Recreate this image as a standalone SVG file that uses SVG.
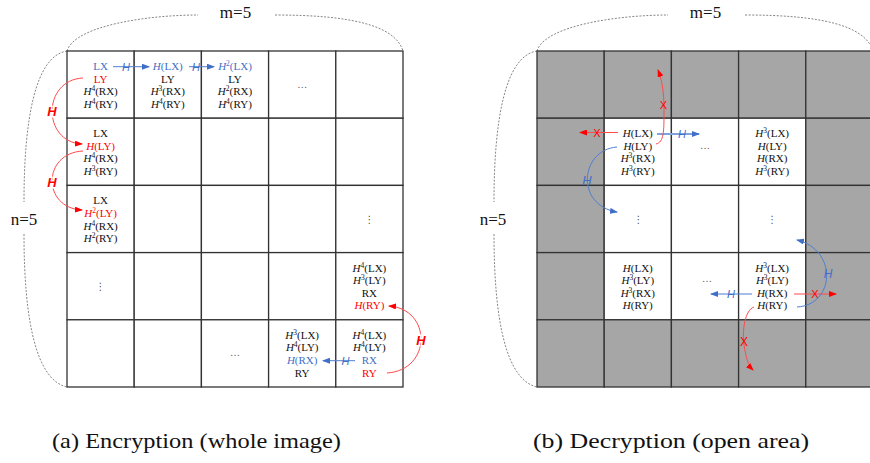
<svg xmlns="http://www.w3.org/2000/svg" width="870" height="463" viewBox="0 0 870 463">
<style>
  .cell { stroke: #333; stroke-width: 1.3; }
  .w { fill: #fff; }
  .g { fill: #a6a6a6; }
  .t { font-family: "Liberation Serif", "Times New Roman", serif; font-size: 11px; text-anchor: middle; fill: #111; }
  .i { font-style: italic; }
  .s { font-size: 7.5px; }
  .blue { fill: #3f6fc6; }
  .red { fill: #f00; }
  .dots { font-family: "Liberation Serif", serif; font-size: 10px; text-anchor: middle; fill: #555; }
  .vdots { font-family: "DejaVu Sans", sans-serif; font-size: 10px; text-anchor: middle; fill: #555; }
  .brace { fill: none; stroke: #777; stroke-width: 0.9; stroke-dasharray: 2 1.5; }
  .dim { font-family: "Liberation Serif", "Times New Roman", serif; font-size: 17px; text-anchor: middle; fill: #111; }
  .cap { font-family: "Liberation Serif", "Times New Roman", serif; font-size: 21px; fill: #111; }
  .lb { font-family: "Liberation Sans", sans-serif; font-style: italic; text-anchor: middle; fill: #3f6fc6; }
  .lr { font-family: "Liberation Sans", sans-serif; text-anchor: middle; fill: #f00; }
  .cb { fill: none; stroke: #4f7fd0; stroke-width: 1; }
  .cbw { fill: none; stroke: #7ea3de; stroke-width: 2; }
  .cr { fill: none; stroke: #ff4a4a; stroke-width: 1; }
  .halo { stroke: #fff; stroke-width: 3; paint-order: stroke; }
</style>
<defs>
  <marker id="ab" viewBox="0 0 8 6" refX="7" refY="3" markerWidth="8" markerHeight="6" markerUnits="userSpaceOnUse" orient="auto">
    <path d="M0,0 L8,3 L0,6 z" fill="#3f6fc6"/>
  </marker>
  <marker id="ar" viewBox="0 0 8 6" refX="7" refY="3" markerWidth="8" markerHeight="6" markerUnits="userSpaceOnUse" orient="auto">
    <path d="M0,0 L8,3 L0,6 z" fill="#f00"/>
  </marker>
</defs>

<!-- ===== (a) Encryption: 5x5 grid ===== -->
<g id="braces-a">
  <path class="brace" d="M67,51 C75,25 150,15 198,15"/>
  <path class="brace" d="M275,15 C350,15 395,25 403,51"/>
  <text class="dim" x="235.5" y="18">m=5</text>
  <path class="brace" d="M67,51 C35,56 24,120 24,202"/>
  <path class="brace" d="M24,234 C24,320 36,380 67,387"/>
  <text class="dim" x="24" y="225">n=5</text>
</g>

<g id="a-r0c0"><rect class="cell w" x="67" y="51" width="67.2" height="67.2"/>
  <text class="t blue" x="100.6" y="70">LX</text>
  <text class="t red" x="100.6" y="82.6">LY</text>
  <text class="t" x="100.6" y="95.2"><tspan class="i">H</tspan><tspan class="s" dy="-4">4</tspan><tspan dy="4">(RX)</tspan></text>
  <text class="t" x="100.6" y="107.8"><tspan class="i">H</tspan><tspan class="s" dy="-4">4</tspan><tspan dy="4">(RY)</tspan></text>
</g>
<g id="a-r0c1"><rect class="cell w" x="134.2" y="51" width="67.2" height="67.2"/>
  <text class="t blue" x="167.8" y="70"><tspan class="i">H</tspan>(LX)</text>
  <text class="t" x="167.8" y="82.6">LY</text>
  <text class="t" x="167.8" y="95.2"><tspan class="i">H</tspan><tspan class="s" dy="-4">3</tspan><tspan dy="4">(RX)</tspan></text>
  <text class="t" x="167.8" y="107.8"><tspan class="i">H</tspan><tspan class="s" dy="-4">4</tspan><tspan dy="4">(RY)</tspan></text>
</g>
<g id="a-r0c2"><rect class="cell w" x="201.4" y="51" width="67.2" height="67.2"/>
  <text class="t blue" x="235" y="70"><tspan class="i">H</tspan><tspan class="s" dy="-4">2</tspan><tspan dy="4">(LX)</tspan></text>
  <text class="t" x="235" y="82.6">LY</text>
  <text class="t" x="235" y="95.2"><tspan class="i">H</tspan><tspan class="s" dy="-4">2</tspan><tspan dy="4">(RX)</tspan></text>
  <text class="t" x="235" y="107.8"><tspan class="i">H</tspan><tspan class="s" dy="-4">4</tspan><tspan dy="4">(RY)</tspan></text>
</g>
<g id="a-r0c3"><rect class="cell w" x="268.6" y="51" width="67.2" height="67.2"/>
  <text class="dots" x="302.2" y="88">…</text>
</g>
<g id="a-r0c4"><rect class="cell w" x="335.8" y="51" width="67.2" height="67.2"/></g>

<g id="a-r1c0"><rect class="cell w" x="67" y="118.2" width="67.2" height="67.2"/>
  <text class="t" x="100.6" y="137.2">LX</text>
  <text class="t red" x="100.6" y="149.8"><tspan class="i">H</tspan>(LY)</text>
  <text class="t" x="100.6" y="162.4"><tspan class="i">H</tspan><tspan class="s" dy="-4">4</tspan><tspan dy="4">(RX)</tspan></text>
  <text class="t" x="100.6" y="175"><tspan class="i">H</tspan><tspan class="s" dy="-4">3</tspan><tspan dy="4">(RY)</tspan></text>
</g>
<g id="a-r1c1"><rect class="cell w" x="134.2" y="118.2" width="67.2" height="67.2"/></g>
<g id="a-r1c2"><rect class="cell w" x="201.4" y="118.2" width="67.2" height="67.2"/></g>
<g id="a-r1c3"><rect class="cell w" x="268.6" y="118.2" width="67.2" height="67.2"/></g>
<g id="a-r1c4"><rect class="cell w" x="335.8" y="118.2" width="67.2" height="67.2"/></g>

<g id="a-r2c0"><rect class="cell w" x="67" y="185.4" width="67.2" height="67.2"/>
  <text class="t" x="100.6" y="204.4">LX</text>
  <text class="t red" x="100.6" y="217"><tspan class="i">H</tspan><tspan class="s" dy="-4">2</tspan><tspan dy="4">(LY)</tspan></text>
  <text class="t" x="100.6" y="229.6"><tspan class="i">H</tspan><tspan class="s" dy="-4">4</tspan><tspan dy="4">(RX)</tspan></text>
  <text class="t" x="100.6" y="242.2"><tspan class="i">H</tspan><tspan class="s" dy="-4">2</tspan><tspan dy="4">(RY)</tspan></text>
</g>
<g id="a-r2c1"><rect class="cell w" x="134.2" y="185.4" width="67.2" height="67.2"/></g>
<g id="a-r2c2"><rect class="cell w" x="201.4" y="185.4" width="67.2" height="67.2"/></g>
<g id="a-r2c3"><rect class="cell w" x="268.6" y="185.4" width="67.2" height="67.2"/></g>
<g id="a-r2c4"><rect class="cell w" x="335.8" y="185.4" width="67.2" height="67.2"/>
  <text class="vdots" x="369.4" y="222.5">⋮</text>
</g>

<g id="a-r3c0"><rect class="cell w" x="67" y="252.6" width="67.2" height="67.2"/>
  <text class="vdots" x="100.6" y="289.5">⋮</text>
</g>
<g id="a-r3c1"><rect class="cell w" x="134.2" y="252.6" width="67.2" height="67.2"/></g>
<g id="a-r3c2"><rect class="cell w" x="201.4" y="252.6" width="67.2" height="67.2"/></g>
<g id="a-r3c3"><rect class="cell w" x="268.6" y="252.6" width="67.2" height="67.2"/></g>
<g id="a-r3c4"><rect class="cell w" x="335.8" y="252.6" width="67.2" height="67.2"/>
  <text class="t" x="369.4" y="271.6"><tspan class="i">H</tspan><tspan class="s" dy="-4">4</tspan><tspan dy="4">(LX)</tspan></text>
  <text class="t" x="369.4" y="284.2"><tspan class="i">H</tspan><tspan class="s" dy="-4">3</tspan><tspan dy="4">(LY)</tspan></text>
  <text class="t" x="369.4" y="296.8">RX</text>
  <text class="t red" x="369.4" y="309.4"><tspan class="i">H</tspan>(RY)</text>
</g>

<g id="a-r4c0"><rect class="cell w" x="67" y="319.8" width="67.2" height="67.2"/></g>
<g id="a-r4c1"><rect class="cell w" x="134.2" y="319.8" width="67.2" height="67.2"/></g>
<g id="a-r4c2"><rect class="cell w" x="201.4" y="319.8" width="67.2" height="67.2"/>
  <text class="dots" x="235" y="356">…</text>
</g>
<g id="a-r4c3"><rect class="cell w" x="268.6" y="319.8" width="67.2" height="67.2"/>
  <text class="t" x="302.2" y="338.8"><tspan class="i">H</tspan><tspan class="s" dy="-4">3</tspan><tspan dy="4">(LX)</tspan></text>
  <text class="t" x="302.2" y="351.4"><tspan class="i">H</tspan><tspan class="s" dy="-4">4</tspan><tspan dy="4">(LY)</tspan></text>
  <text class="t blue" x="302.2" y="364"><tspan class="i">H</tspan>(RX)</text>
  <text class="t" x="302.2" y="376.6">RY</text>
</g>
<g id="a-r4c4"><rect class="cell w" x="335.8" y="319.8" width="67.2" height="67.2"/>
  <text class="t" x="369.4" y="338.8"><tspan class="i">H</tspan><tspan class="s" dy="-4">4</tspan><tspan dy="4">(LX)</tspan></text>
  <text class="t" x="369.4" y="351.4"><tspan class="i">H</tspan><tspan class="s" dy="-4">4</tspan><tspan dy="4">(LY)</tspan></text>
  <text class="t blue" x="369.4" y="364">RX</text>
  <text class="t red" x="369.4" y="376.6">RY</text>
</g>

<!-- ===== (b) Decryption: 5x5 grid, only the inner area is open ===== -->
<g id="braces-b">
  <path class="brace" d="M537,51 C545,25 620,15 668,15"/>
  <path class="brace" d="M745,15 C820,15 865,25 873,51"/>
  <text class="dim" x="705.5" y="18">m=5</text>
  <path class="brace" d="M537,51 C505,56 494,120 494,202"/>
  <path class="brace" d="M494,234 C494,320 506,380 537,387"/>
  <text class="dim" x="493" y="225">n=5</text>
</g>

<g id="b-r0c0"><rect class="cell g" x="537" y="51" width="67.2" height="67.2"/></g>
<g id="b-r0c1"><rect class="cell g" x="604.2" y="51" width="67.2" height="67.2"/></g>
<g id="b-r0c2"><rect class="cell g" x="671.4" y="51" width="67.2" height="67.2"/></g>
<g id="b-r0c3"><rect class="cell g" x="738.6" y="51" width="67.2" height="67.2"/></g>
<g id="b-r0c4"><rect class="cell g" x="805.8" y="51" width="67.2" height="67.2"/></g>

<g id="b-r1c0"><rect class="cell g" x="537" y="118.2" width="67.2" height="67.2"/></g>
<g id="b-r1c1"><rect class="cell w" x="604.2" y="118.2" width="67.2" height="67.2"/>
  <text class="t" x="637.8" y="137.2"><tspan class="i">H</tspan>(LX)</text>
  <text class="t" x="637.8" y="149.8"><tspan class="i">H</tspan>(LY)</text>
  <text class="t" x="637.8" y="162.4"><tspan class="i">H</tspan><tspan class="s" dy="-4">3</tspan><tspan dy="4">(RX)</tspan></text>
  <text class="t" x="637.8" y="175"><tspan class="i">H</tspan><tspan class="s" dy="-4">3</tspan><tspan dy="4">(RY)</tspan></text>
</g>
<g id="b-r1c2"><rect class="cell w" x="671.4" y="118.2" width="67.2" height="67.2"/>
  <text class="dots" x="705" y="149">…</text>
</g>
<g id="b-r1c3"><rect class="cell w" x="738.6" y="118.2" width="67.2" height="67.2"/>
  <text class="t" x="772.2" y="137.2"><tspan class="i">H</tspan><tspan class="s" dy="-4">3</tspan><tspan dy="4">(LX)</tspan></text>
  <text class="t" x="772.2" y="149.8"><tspan class="i">H</tspan>(LY)</text>
  <text class="t" x="772.2" y="162.4"><tspan class="i">H</tspan>(RX)</text>
  <text class="t" x="772.2" y="175"><tspan class="i">H</tspan><tspan class="s" dy="-4">3</tspan><tspan dy="4">(RY)</tspan></text>
</g>
<g id="b-r1c4"><rect class="cell g" x="805.8" y="118.2" width="67.2" height="67.2"/></g>

<g id="b-r2c0"><rect class="cell g" x="537" y="185.4" width="67.2" height="67.2"/></g>
<g id="b-r2c1"><rect class="cell w" x="604.2" y="185.4" width="67.2" height="67.2"/>
  <text class="vdots" x="638.5" y="222.5">⋮</text>
</g>
<g id="b-r2c2"><rect class="cell w" x="671.4" y="185.4" width="67.2" height="67.2"/></g>
<g id="b-r2c3"><rect class="cell w" x="738.6" y="185.4" width="67.2" height="67.2"/>
  <text class="vdots" x="772.2" y="222.5">⋮</text>
</g>
<g id="b-r2c4"><rect class="cell g" x="805.8" y="185.4" width="67.2" height="67.2"/></g>

<g id="b-r3c0"><rect class="cell g" x="537" y="252.6" width="67.2" height="67.2"/></g>
<g id="b-r3c1"><rect class="cell w" x="604.2" y="252.6" width="67.2" height="67.2"/>
  <text class="t" x="637.8" y="271.6"><tspan class="i">H</tspan>(LX)</text>
  <text class="t" x="637.8" y="284.2"><tspan class="i">H</tspan><tspan class="s" dy="-4">3</tspan><tspan dy="4">(LY)</tspan></text>
  <text class="t" x="637.8" y="296.8"><tspan class="i">H</tspan><tspan class="s" dy="-4">3</tspan><tspan dy="4">(RX)</tspan></text>
  <text class="t" x="637.8" y="309.4"><tspan class="i">H</tspan>(RY)</text>
</g>
<g id="b-r3c2"><rect class="cell w" x="671.4" y="252.6" width="67.2" height="67.2"/>
  <text class="dots" x="707" y="282">…</text>
</g>
<g id="b-r3c3"><rect class="cell w" x="738.6" y="252.6" width="67.2" height="67.2"/>
  <text class="t" x="772.2" y="271.6"><tspan class="i">H</tspan><tspan class="s" dy="-4">3</tspan><tspan dy="4">(LX)</tspan></text>
  <text class="t" x="772.2" y="284.2"><tspan class="i">H</tspan><tspan class="s" dy="-4">3</tspan><tspan dy="4">(LY)</tspan></text>
  <text class="t" x="772.2" y="296.8"><tspan class="i">H</tspan>(RX)</text>
  <text class="t" x="772.2" y="309.4"><tspan class="i">H</tspan>(RY)</text>
</g>
<g id="b-r3c4"><rect class="cell g" x="805.8" y="252.6" width="67.2" height="67.2"/></g>

<g id="b-r4c0"><rect class="cell g" x="537" y="319.8" width="67.2" height="67.2"/></g>
<g id="b-r4c1"><rect class="cell g" x="604.2" y="319.8" width="67.2" height="67.2"/></g>
<g id="b-r4c2"><rect class="cell g" x="671.4" y="319.8" width="67.2" height="67.2"/></g>
<g id="b-r4c3"><rect class="cell g" x="738.6" y="319.8" width="67.2" height="67.2"/></g>
<g id="b-r4c4"><rect class="cell g" x="805.8" y="319.8" width="67.2" height="67.2"/></g>

<!-- ===== connectors ===== -->
<g id="connectors">
  <!-- (a) hashing steps -->
  <path class="cb" d="M113,66.7 L149,66.7" marker-end="url(#ab)"/>
  <text class="lb" x="126" y="70.5" font-size="11">H</text>
  <path class="cb" d="M189,66.7 L214,66.7" marker-end="url(#ab)"/>
  <text class="lb" x="196" y="70.5" font-size="11">H</text>

  <path class="cr" d="M83,78 C42,80 42,142 82,144" marker-end="url(#ar)"/>
  <text class="lr halo" x="52" y="115.5" font-size="13" font-weight="bold" font-style="italic">H</text>
  <path class="cr" d="M83,151 C42,153 42,208 82,210" marker-end="url(#ar)"/>
  <text class="lr halo" x="52" y="186.5" font-size="13" font-weight="bold" font-style="italic">H</text>

  <path class="cb" d="M355,360.7 L323,360.7" marker-end="url(#ab)"/>
  <text class="lb" x="345.5" y="364.5" font-size="11">H</text>
  <path class="cr" d="M387,373 C432,370 432,309 389,306" marker-end="url(#ar)"/>
  <text class="lr halo" x="421" y="344.5" font-size="13" font-weight="bold" font-style="italic">H</text>

  <!-- (b) steps from the open area -->
  <path class="cr" d="M618,132.5 L580,132.5" marker-end="url(#ar)"/>
  <text class="lr" x="597" y="136.5" font-size="11">X</text>
  <path class="cbw" d="M657,134 L699,134" marker-end="url(#ab)"/>
  <text class="lb" x="682" y="138" font-size="11">H</text>
  <path class="cr" d="M656,144 C664,142 664,132 664,110 C664,92 662,80 658,70" marker-end="url(#ar)"/>
  <text class="lr" x="663.5" y="109" font-size="11">X</text>
  <path class="cb" d="M617,147 C580,150 575,205 617,212" marker-end="url(#ab)"/>
  <text class="lb" x="587" y="185" font-size="13">H</text>

  <path class="cb" d="M752,294 L711,294" marker-end="url(#ab)"/>
  <text class="lb" x="731" y="298" font-size="11">H</text>
  <path class="cr" d="M794,294 L836,294" marker-end="url(#ar)"/>
  <text class="lr" x="815" y="298" font-size="11">X</text>
  <path class="cb" d="M797,307 C835,305 838,250 797,240" marker-end="url(#ab)"/>
  <text class="lb" x="828" y="277.5" font-size="12">H</text>
  <path class="cr" d="M754,307 C745,310 742,330 744,345 C746,358 748,365 753,370" marker-end="url(#ar)"/>
  <text class="lr" x="744" y="345.5" font-size="12">X</text>
</g>

<!-- captions -->
<text class="cap" x="52" y="448" textLength="289" lengthAdjust="spacingAndGlyphs">(a) Encryption (whole image)</text>
<text class="cap" x="533" y="448" textLength="276" lengthAdjust="spacingAndGlyphs">(b) Decryption (open area)</text>
</svg>
